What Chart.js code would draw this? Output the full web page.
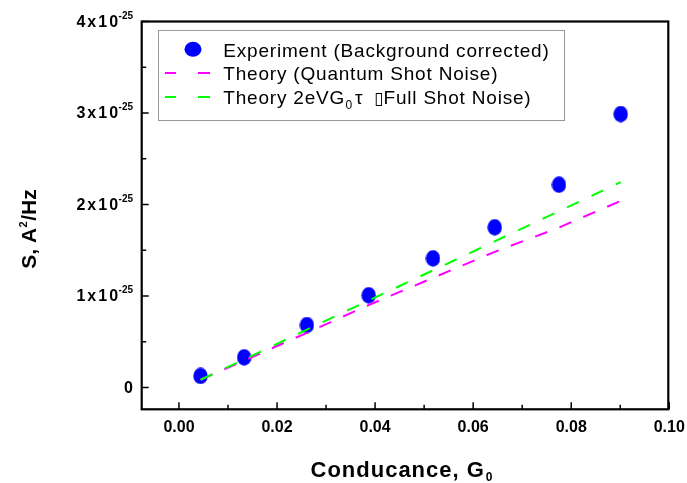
<!DOCTYPE html>
<html>
<head>
<meta charset="utf-8">
<script src="https://cdn.jsdelivr.net/npm/chart.js@4.4.1/dist/chart.umd.min.js"></script>
<style>
  html, body { margin: 0; padding: 0; background: #fff; }
  #noiseChart { display: block; }
</style>
</head>
<body>
<canvas id="noiseChart" width="687" height="483"></canvas>
<script>
// conductance in G0, noise in units of 1e-25 A^2/Hz
const conductance = [0.0044, 0.0133, 0.0261, 0.0387, 0.0518, 0.0644, 0.0775, 0.0901];
const experiment = [0.126, 0.330, 0.683, 1.008, 1.412, 1.751, 2.216, 2.989];
const quantumShot = [0.085, 0.296, 0.598, 0.902, 1.198, 1.483, 1.748, 2.040];
const fullShot = [0.085, 0.307, 0.633, 0.951, 1.280, 1.598, 1.927, 2.245];

const xTicks = [0, 0.02, 0.04, 0.06, 0.08, 0.10];
const xTickLabels = ['0.00', '0.02', '0.04', '0.06', '0.08', '0.10'];
const xMinorTicks = [0.01, 0.03, 0.05, 0.07, 0.09];
const yTicks = [0, 1, 2, 3, 4];
const yTickLabels = ['0', '1x10', '2x10', '3x10', '4x10'];
const yTickExp = ['', '-25', '-25', '-25', '-25'];
const yMinorTicks = [0.5, 1.5, 2.5, 3.5];

const BLUE = '#0000ff', MAGENTA = '#ff00ff', GREEN = '#00ff00';
const FONT = '"Liberation Sans", Arial, sans-serif';

function ellipseImage(w, h) {
  const c = document.createElement('canvas');
  c.width = w; c.height = h;
  const g = c.getContext('2d');
  g.fillStyle = BLUE;
  g.beginPath();
  g.ellipse(w / 2, h / 2, w / 2 - 0.3, h / 2 - 0.3, 0, 0, Math.PI * 2);
  g.fill();
  return c;
}

const toPoints = (ys) => conductance.map((x, i) => ({ x, y: ys[i] }));

// draws run of text pieces, returns end x
function textRun(ctx, x, y, text, font, spacing) {
  ctx.font = font;
  ctx.letterSpacing = (spacing || 0) + 'px';
  ctx.fillText(text, x, y);
  const w = ctx.measureText(text).width;
  ctx.letterSpacing = '0px';
  return x + w;
}

const framePlugin = {
  id: 'frame',
  afterDraw(chart) {
    const { ctx, chartArea: a, scales: { x, y } } = chart;
    ctx.save();
    ctx.strokeStyle = '#000';
    ctx.fillStyle = '#000';

    // ticks (inward)
    ctx.lineWidth = 1.5;
    ctx.beginPath();
    yTicks.forEach((v) => { const py = y.getPixelForValue(v); ctx.moveTo(a.left, py); ctx.lineTo(a.left + 7, py); });
    yMinorTicks.forEach((v) => { const py = y.getPixelForValue(v); ctx.moveTo(a.left, py); ctx.lineTo(a.left + 4.5, py); });
    xTicks.forEach((v) => { const px = x.getPixelForValue(v); ctx.moveTo(px, a.bottom); ctx.lineTo(px, a.bottom - 7); });
    xMinorTicks.forEach((v) => { const px = x.getPixelForValue(v); ctx.moveTo(px, a.bottom); ctx.lineTo(px, a.bottom - 4.5); });
    ctx.stroke();

    ctx.lineWidth = 2.2;
    ctx.strokeRect(a.left, a.top, a.right - a.left, a.bottom - a.top);

    // x tick labels
    ctx.textBaseline = 'alphabetic';
    ctx.textAlign = 'center';
    ctx.font = 'bold 16px ' + FONT;
    xTicks.forEach((v, i) => ctx.fillText(xTickLabels[i], x.getPixelForValue(v), 431.5));

    // y tick labels with superscript exponent
    ctx.textAlign = 'right';
    yTicks.forEach((v, i) => {
      const py = y.getPixelForValue(v);
      let right = 133;
      if (yTickExp[i]) {
        ctx.font = 'bold 10px ' + FONT;
        ctx.fillText(yTickExp[i], right, py - 3);
        right -= ctx.measureText(yTickExp[i]).width + 0.5;
      }
      ctx.font = 'bold 16px ' + FONT;
      ctx.letterSpacing = yTickExp[i] ? '2px' : '0px';
      ctx.fillText(yTickLabels[i], right + (yTickExp[i] ? 2 : 0), py + 5.3);
      ctx.letterSpacing = '0px';
    });

    // x title
    ctx.textAlign = 'left';
    let ex = textRun(ctx, 310.5, 476.7, 'Conducance, G', 'bold 22px ' + FONT, 1);
    textRun(ctx, ex + 1, 481, '0', 'bold 12px ' + FONT);

    // y title (rotated)
    ctx.save();
    ctx.translate(36, 229);
    ctx.rotate(-Math.PI / 2);
    ctx.font = 'bold 21px ' + FONT;
    const w1 = ctx.measureText('S, A').width;
    const w3 = ctx.measureText('/Hz').width;
    ctx.font = 'bold 11px ' + FONT;
    const w2 = ctx.measureText('2').width + 1;
    let tx = -(w1 + w2 + w3) / 2;
    tx = textRun(ctx, tx, 0, 'S, A', 'bold 21px ' + FONT);
    textRun(ctx, tx + 0.5, -9, '2', 'bold 11px ' + FONT);
    textRun(ctx, tx + w2, 0, '/Hz', 'bold 21px ' + FONT);
    ctx.restore();

    // legend box
    ctx.lineWidth = 1;
    ctx.strokeStyle = '#9a9a9a';
    ctx.fillStyle = '#fff';
    ctx.fillRect(158.5, 30.5, 406, 90);
    ctx.strokeRect(158.5, 30.5, 406, 90);

    const rows = [56.5, 80, 104];
    ctx.fillStyle = BLUE;
    ctx.beginPath();
    ctx.ellipse(193, rows[0] - 7.3, 8.5, 7.5, 0, 0, Math.PI * 2);
    ctx.fill();

    ctx.lineWidth = 2;
    [[MAGENTA, rows[1]], [GREEN, rows[2]]].forEach(([c, by]) => {
      ctx.strokeStyle = c;
      ctx.beginPath();
      ctx.moveTo(165, by - 7); ctx.lineTo(176, by - 7);
      ctx.moveTo(198, by - 7); ctx.lineTo(210, by - 7);
      ctx.stroke();
    });

    ctx.fillStyle = '#000';
    const lf = '19px ' + FONT;
    textRun(ctx, 223.3, rows[0], 'Experiment (Background corrected)', lf, 0.8);
    textRun(ctx, 223.3, rows[1], 'Theory (Quantum Shot Noise)', lf, 0.8);
    ex = textRun(ctx, 223.3, rows[2], 'Theory 2eVG', lf, 0.8);
    textRun(ctx, ex + 0.5, rows[2] + 5, '0', '12px ' + FONT);
    textRun(ctx, 355, rows[2], '\u03c4', lf);
    ctx.lineWidth = 1;
    ctx.strokeStyle = '#000';
    textRun(ctx, 374, rows[2], '\u25af', '17px "DejaVu Sans", sans-serif');
    textRun(ctx, 383.5, rows[2], 'Full Shot Noise)', lf, 0.8);

    ctx.restore();
  }
};

new Chart(document.getElementById('noiseChart'), {
  type: 'scatter',
  data: {
    datasets: [
      {
        label: 'Theory 2eVG0\u03c4 (Full Shot Noise)',
        data: toPoints(fullShot),
        showLine: true,
        borderColor: GREEN,
        borderWidth: 2,
        borderDash: [13, 14],
        pointRadius: 0,
        order: 0
      },
      {
        label: 'Theory (Quantum Shot Noise)',
        data: toPoints(quantumShot),
        showLine: true,
        borderColor: MAGENTA,
        borderWidth: 2,
        borderDash: [13, 13],
        pointRadius: 0,
        order: 1
      },
      {
        label: 'Experiment (Background corrected)',
        data: toPoints(experiment),
        pointStyle: ellipseImage(15, 17),
        pointRadius: 8,
        backgroundColor: BLUE,
        borderWidth: 0,
        order: 2
      }
    ]
  },
  options: {
    responsive: false,
    animation: false,
    layout: { padding: { left: 141.7, top: 21.5, right: 18.7, bottom: 73.7 } },
    scales: {
      x: { type: 'linear', min: -0.0076, max: 0.0998, display: false },
      y: { type: 'linear', min: -0.238, max: 4.0, display: false }
    },
    plugins: { legend: { display: false }, tooltip: { enabled: false } }
  },
  plugins: [framePlugin]
});
</script>
</body>
</html>
